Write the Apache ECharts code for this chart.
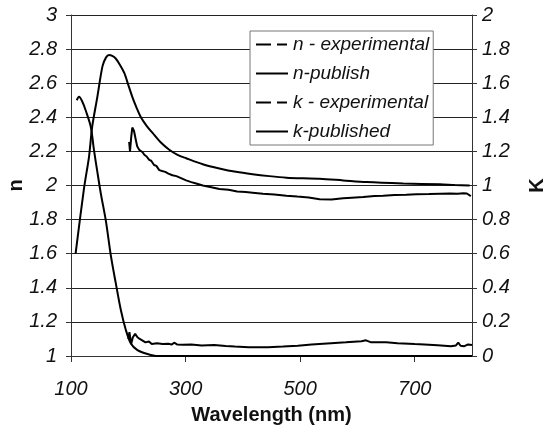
<!DOCTYPE html>
<html>
<head>
<meta charset="utf-8">
<script src="https://cdn.jsdelivr.net/npm/echarts@6/dist/echarts.min.js"></script>
<style>
html,body{margin:0;padding:0;background:#fff;}
#chart{width:543px;height:429px;}
</style>
</head>
<body>
<div id="chart"></div>
<script>
// ---- data ----
const seriesNames = ['n - experimental', 'n-publish', 'k - experimental', 'k-published'];
const xTicks = [100, 300, 500, 700];

const nExpWl = [201.5,203,205,207,210,213,215.5,219,222,225,228,232,236.5,240,245,249,254,259,264.5,270,277,284,291,301,310,320,330,345,359,375,390,405,417,435,455,476,495,515,534,555,575,590,610,630,645,665,685,703,725,745,761.5,775,785,791,798];
const nExpVal = [2.255,2.20,2.28,2.34,2.32,2.27,2.23,2.21,2.20,2.195,2.18,2.17,2.15,2.145,2.12,2.115,2.09,2.085,2.08,2.07,2.06,2.055,2.045,2.03,2.02,2.01,2.0,1.99,1.98,1.975,1.965,1.962,1.958,1.952,1.947,1.94,1.935,1.93,1.92,1.918,1.925,1.928,1.932,1.938,1.94,1.944,1.946,1.948,1.95,1.952,1.953,1.951,1.954,1.953,1.938];

const nPubWl = [108,123,131.5,137,146,155,161,166.5,172,178,185,193,200,207,214,222,232,242,256,271.5,286,301,330,359,388,417,446,476,505,534,575,616,680,744,770,796];
const nPubVal = [1.60,1.99,2.17,2.345,2.52,2.70,2.75,2.765,2.76,2.745,2.71,2.66,2.59,2.52,2.46,2.40,2.35,2.31,2.255,2.21,2.18,2.16,2.125,2.10,2.08,2.066,2.055,2.046,2.042,2.04,2.03,2.02,2.012,2.007,2.003,2.0];

const kExpWl = [200,202,205,208,212,216,220,225,230,236,241,250,260,270,276,280,285,295,310,328,350,370,386,410,444,470,496,520,554,580,607,615,624,650,670,700,717,740,763,772,776,780,786,793,800];
const kExpVal = [0.10,0.14,0.07,0.11,0.13,0.11,0.10,0.09,0.08,0.085,0.07,0.075,0.07,0.072,0.067,0.078,0.068,0.066,0.068,0.062,0.065,0.058,0.055,0.052,0.052,0.055,0.06,0.068,0.075,0.08,0.087,0.092,0.08,0.08,0.075,0.07,0.068,0.063,0.057,0.062,0.078,0.06,0.057,0.068,0.065];

const kPubWl = [110,114,120,125.7,134.5,140,146,152,161,169.5,178,187,196,204.5,216,233.5,251,300,400,500,600,700,800];
const kPubVal = [1.50,1.52,1.49,1.44,1.345,1.21,1.08,0.954,0.79,0.59,0.43,0.27,0.15,0.074,0.035,0.012,0.0,0,0,0,0,0,0];

function zip(xs, ys){ return xs.map((x,i)=>[x, ys[i]]); }

const FONT = '"Liberation Sans", Arial, sans-serif';
const chart = echarts.init(document.getElementById('chart'), null, {renderer:'canvas'});

const dashed = {type:[15,6,10,20], width:2, color:'#000'};
const solid = {type:'solid', width:2, color:'#000'};

chart.setOption({
  backgroundColor:'#fff',
  animation:false,
  grid:{left:71, right:71, top:15, bottom:73, containLabel:false, outerBoundsMode:'none'},
  legend:{
    show:true, orient:'vertical', left:250, top:31,
    padding:[3,4,3,5], itemGap:8, itemWidth:32, itemHeight:14,
    backgroundColor:'#fff', borderColor:'#777', borderWidth:1,
    itemStyle:{color:'rgba(0,0,0,0)', borderWidth:0, opacity:0},
    textStyle:{fontFamily:FONT, fontSize:19, fontStyle:'italic', color:'#111', lineHeight:21},
    data:[
      {name:seriesNames[0], lineStyle:dashed},
      {name:seriesNames[1], lineStyle:solid},
      {name:seriesNames[2], lineStyle:dashed},
      {name:seriesNames[3], lineStyle:solid}
    ]
  },
  xAxis:{
    type:'value', min:100, max:800, interval:200,
    name:'Wavelength (nm)', nameLocation:'middle', nameGap:49, nameMoveOverlap:false,
    nameTextStyle:{fontFamily:FONT, fontSize:20, fontWeight:'bold', color:'#111'},
    axisLine:{show:true, lineStyle:{color:'#333', width:1}},
    axisTick:{show:true, inside:false, length:6, lineStyle:{color:'#333'}},
    axisLabel:{show:true, margin:23, showMaxLabel:false, fontFamily:FONT, fontSize:20, fontStyle:'italic', color:'#111',
      formatter:function(v){ return xTicks.indexOf(v) >= 0 ? String(v) : ''; }},
    splitLine:{show:false}
  },
  yAxis:[
    {
      type:'value', position:'left', min:1, max:3, interval:0.2,
      name:'n', nameLocation:'middle', nameGap:45, nameRotate:90, nameMoveOverlap:false,
      nameTextStyle:{fontFamily:FONT, fontSize:20, fontWeight:'bold', color:'#111'},
      axisLine:{show:true, lineStyle:{color:'#333', width:1}},
      axisTick:{show:true, inside:false, length:5, lineStyle:{color:'#333'}},
      axisLabel:{margin:14, fontFamily:FONT, fontSize:20, fontStyle:'italic', color:'#111',
        formatter:function(v){ return String(Math.round(v*10)/10); }},
      splitLine:{show:true, lineStyle:{color:'#222', width:1}}
    },
    {
      type:'value', position:'right', min:0, max:2, interval:0.2,
      name:'K', nameLocation:'middle', nameGap:55, nameRotate:90, nameMoveOverlap:false,
      nameTextStyle:{fontFamily:FONT, fontSize:20, fontWeight:'bold', color:'#111'},
      axisLine:{show:true, lineStyle:{color:'#333', width:1}},
      axisTick:{show:true, inside:false, length:5, lineStyle:{color:'#333'}},
      axisLabel:{margin:10, fontFamily:FONT, fontSize:20, fontStyle:'italic', color:'#111',
        formatter:function(v){ return String(Math.round(v*10)/10); }},
      splitLine:{show:false}
    }
  ],
  series:[
    {type:'line', name:seriesNames[0], yAxisIndex:0, symbol:'none', data:zip(nExpWl, nExpVal),
      lineStyle:{color:'#000', width:2}, itemStyle:{color:'#000'}},
    {type:'line', name:seriesNames[1], yAxisIndex:0, symbol:'none', smooth:0.3, data:zip(nPubWl, nPubVal),
      lineStyle:{color:'#000', width:2}, itemStyle:{color:'#000'}},
    {type:'line', name:seriesNames[2], yAxisIndex:1, symbol:'none', data:zip(kExpWl, kExpVal),
      lineStyle:{color:'#000', width:2}, itemStyle:{color:'#000'}},
    {type:'line', name:seriesNames[3], yAxisIndex:1, symbol:'none', smooth:0.3, data:zip(kPubWl, kPubVal),
      lineStyle:{color:'#000', width:2}, itemStyle:{color:'#000'}}
  ]
});
</script>
</body>
</html>
